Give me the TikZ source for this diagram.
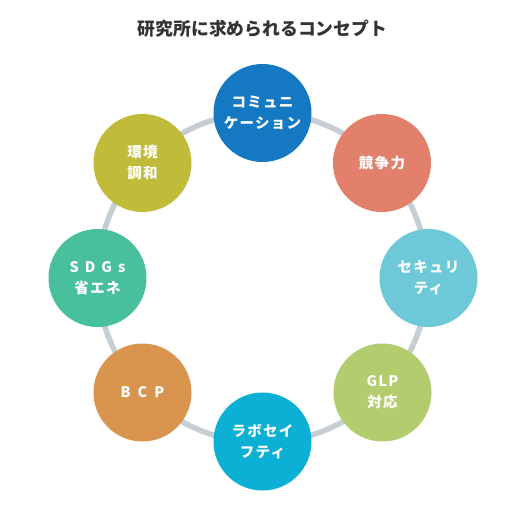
\documentclass[tikz,border=0pt]{standalone}
\usepackage{fontspec}
\setmainfont{Noto Sans CJK JP}
\begin{document}
\begin{tikzpicture}[x=1pt,y=-1pt,
  concept/.style={circle,minimum size=98pt,inner sep=0pt,text=white,align=center,
    font=\fontsize{14.5}{21}\selectfont\bfseries\addfontfeature{LetterSpace=9}}]
  \definecolor{titlegray}{HTML}{333333}
  \definecolor{ringgray}{HTML}{C5CED2}
  \definecolor{conceptblue}{HTML}{1479C2}
  \definecolor{conceptsalmon}{HTML}{E3806C}
  \definecolor{conceptsky}{HTML}{6DC8D8}
  \definecolor{conceptlime}{HTML}{B2CC6E}
  \definecolor{conceptcyan}{HTML}{0BB0D4}
  \definecolor{conceptorange}{HTML}{D9954E}
  \definecolor{conceptgreen}{HTML}{48C09C}
  \definecolor{conceptolive}{HTML}{C1BB3A}

  \useasboundingbox (0,0) rectangle (525,512);
  \node[font=\fontsize{17.8}{20}\selectfont\bfseries,text=titlegray] (title) at (262.5,29) {研究所に求められるコンセプト};
  \draw[ringgray,line width=5.5pt] (262.5,277.5) circle (165);

  \node[concept,fill=conceptblue] (komyunike) at (262.5,113) {コミュニ\\ケーション};
  \node[concept,fill=conceptsalmon] (kyoso) at (382,163) {競争力};
  \node[concept,fill=conceptsky] (sekyuriti) at (428.5,278) {セキュリ\\ティ};
  \node[concept,fill=conceptlime] (glp) at (382.5,392.5) {GLP\\対応};
  \node[concept,fill=conceptcyan] (labo) at (262.5,441.5) {ラボセイ\\フティ};
  \node[concept,fill=conceptorange] (bcp) at (142.5,392.5) {B\hspace{7pt}C\hspace{7pt}P};
  \node[concept,fill=conceptgreen] (sdgs) at (97.5,278) {S\hspace{6pt}D\hspace{6pt}G\hspace{6pt}s\\省エネ};
  \node[concept,fill=conceptolive] (kankyo) at (142.5,163) {環境\\調和};
\end{tikzpicture}
\end{document}
